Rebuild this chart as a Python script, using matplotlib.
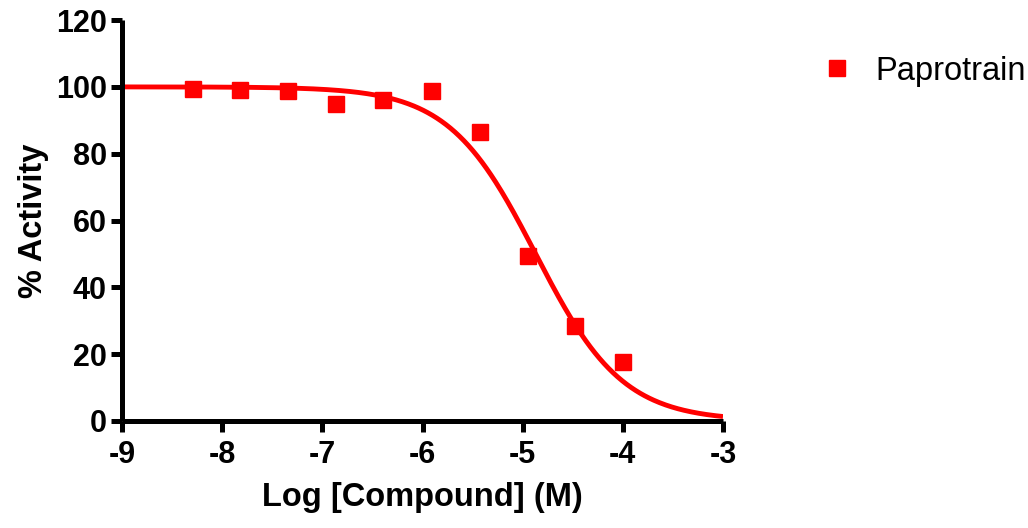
import numpy as np
import matplotlib
matplotlib.use("Agg")
import matplotlib.pyplot as plt

plt.rcParams['font.family'] = ['Liberation Sans', 'DejaVu Sans']

# measured points (3-fold dilution series)
log_conc = [-8.29, -7.82, -7.34, -6.86, -6.39, -5.91, -5.43, -4.95, -4.48, -4.0]
activity = [99.4, 99.1, 98.8, 94.9, 96.1, 98.8, 86.5, 49.4, 28.4, 17.7]

# fitted dose-response parameters
fit_top = 100.0
fit_bottom = 0.0
fit_log_ic50 = -4.87
fit_hill = 1.0

xticks = [-9, -8, -7, -6, -5, -4, -3]
yticks = [0, 20, 40, 60, 80, 100, 120]

fig = plt.figure(figsize=(10.28, 5.28), dpi=100)
ax = fig.add_axes([0.1187, 0.2027, 0.5846, 0.7593])

xs = np.linspace(-9, -3, 400)
curve = fit_bottom + (fit_top - fit_bottom) / (1 + 10 ** ((xs - fit_log_ic50) * fit_hill))
ax.plot(xs, curve, color='#ff0000', lw=3.5, solid_capstyle='butt', zorder=2)
ax.plot(log_conc, activity, 's', color='#ff0000', ms=11, label='Paprotrain',
        zorder=3, clip_on=False)

ax.set_xlim(-9, -3)
ax.set_ylim(0, 120)
ax.set_xticks(xticks)
ax.set_yticks(yticks)
ax.set_xticklabels([str(t) for t in xticks])

for s in ['top', 'right']:
    ax.spines[s].set_visible(False)
for s in ['left', 'bottom']:
    ax.spines[s].set_linewidth(3.6)
    ax.spines[s].set_capstyle('butt')
ax.tick_params(axis='both', width=3.6, length=8, direction='out',
               labelsize=22, pad=3)
ax.tick_params(axis='x', pad=6)
for lab in ax.get_xticklabels() + ax.get_yticklabels():
    lab.set_fontweight('bold')

ax.set_xlabel('Log [Compound] (M)', fontsize=23.5, fontweight='bold', labelpad=8)
ax.set_ylabel('% Activity', fontsize=23.5, fontweight='bold', labelpad=5)

fig.legend(loc='upper left', bbox_to_anchor=(0.771, 0.950), frameon=False,
           fontsize=23.5, handlelength=0.95, handletextpad=0.7)

fig.savefig('out.png', dpi=100)
